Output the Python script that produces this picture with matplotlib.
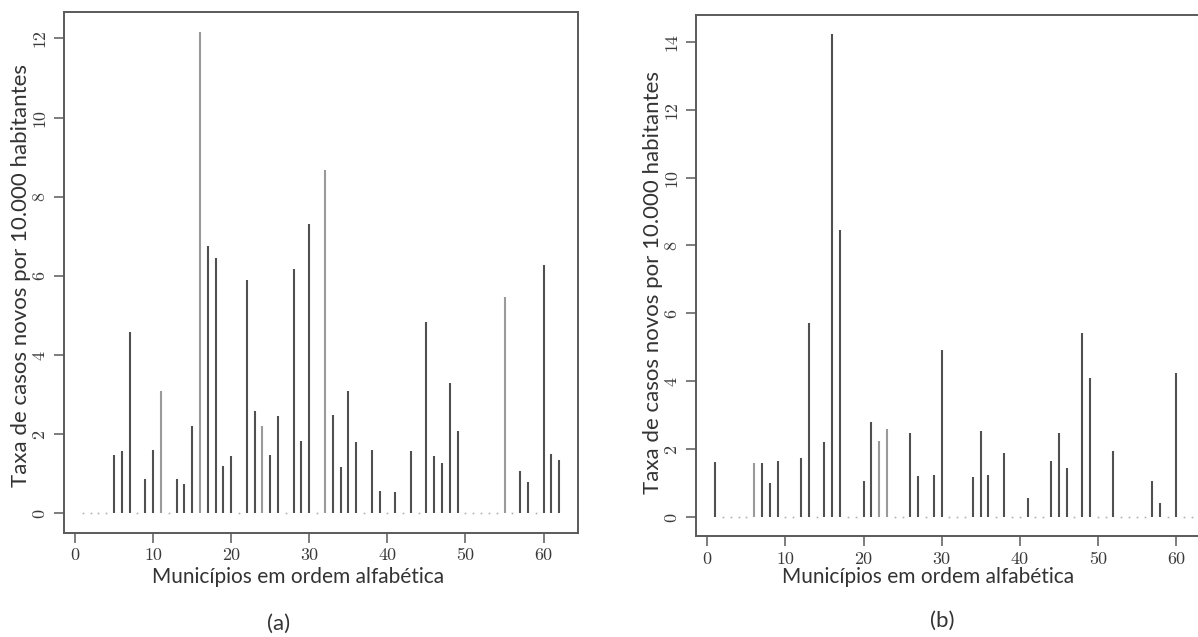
import matplotlib
matplotlib.use("Agg")
import matplotlib.pyplot as plt
import numpy as np

# ---- data ----
municipios = list(range(1, 63))

taxa_a = [0, 0, 0, 0, 1.47, 1.57, 4.58, 0, 0.87, 1.60,
          3.08, 0, 0.87, 0.75, 2.20, 12.16, 6.76, 6.45, 1.20, 1.44,
          0, 5.89, 2.59, 2.21, 1.47, 2.46, 0, 6.18, 1.82, 7.32,
          0, 8.67, 2.49, 1.16, 3.10, 1.80, 0, 1.60, 0.57, 0,
          0.54, 0, 1.58, 0, 4.83, 1.44, 1.26, 3.29, 2.09, 0,
          0, 0, 0, 0, 5.46, 0, 1.07, 0.79, 0, 6.28,
          1.50, 1.35]

taxa_b = [1.62, 0, 0, 0, 0, 1.58, 1.58, 1.00, 1.66, 0,
          0, 1.73, 5.73, 0, 2.22, 14.24, 8.47, 0, 0, 1.06,
          2.80, 2.24, 2.59, 0, 0, 2.47, 1.20, 0, 1.23, 4.93,
          0, 0, 0, 1.18, 2.52, 1.23, 0, 1.89, 0, 0,
          0.55, 0, 0, 1.66, 2.46, 1.43, 0, 5.43, 4.10, 0,
          0, 1.95, 0, 0, 0, 0, 1.06, 0.42, 0, 4.23,
          0, 0]

xticks = [0, 10, 20, 30, 40, 50, 60]
yticks_a = [0, 2, 4, 6, 8, 10, 12]
yticks_b = [0, 2, 4, 6, 8, 10, 12, 14]

xlabel = "Municípios em ordem alfabética"
ylabel = "Taxa de casos novos por 10.000 habitantes"

# style-only: bars rendered lighter in the reference
light_a = [11, 16, 24, 32, 55]
light_b = [6, 22, 23]

# ---- figure ----
W, H = 1198, 637
fig = plt.figure(figsize=(W / 100, H / 100), dpi=100)

DARK = "#505050"
LIGHT = "#9a9a9a"
FRAME = "#5a5a5a"
LABEL_FONT = ["Lato", "DejaVu Sans"]


def draw(ax, x, y, light, yticks, ylim):
    x = np.asarray(x)
    y = np.asarray(y, dtype=float)
    nz = y > 0
    cols = [LIGHT if xi in light else DARK for xi in x[nz]]
    ax.vlines(x[nz], 0, y[nz], colors=cols, linewidth=1.5)
    ax.plot(x[~nz], y[~nz], linestyle="none", marker="s", markersize=1.2,
            color="#b0b0b0", markeredgewidth=0)
    ax.set_xlim(-1.44, 64.44)
    ax.set_ylim(*ylim)
    ax.set_xticks(xticks)
    ax.set_yticks(yticks)
    for s in ax.spines.values():
        s.set_color(FRAME)
        s.set_linewidth(1.4)
    ax.tick_params(axis="both", direction="out", length=7, width=1.1,
                   color=FRAME, labelsize=13, labelcolor="#3a3a3a")
    ax.tick_params(axis="x", pad=4)
    ax.tick_params(axis="y", pad=5)
    for lab in ax.get_xticklabels() + ax.get_yticklabels():
        lab.set_fontfamily("cmr10")
    for lab in ax.get_yticklabels():
        lab.set_rotation(90)
        lab.set_va("center")


def ax_rect(left_px, right_px, top_px, bottom_px):
    return [left_px / W, 1 - bottom_px / H, (right_px - left_px) / W,
            (bottom_px - top_px) / H]


ppu = 7.81
ax1 = fig.add_axes(ax_rect(75 - 1.44 * ppu, 75 + 64.44 * ppu, 12.3, 532.7))
draw(ax1, municipios, taxa_a, light_a, yticks_a, (-0.49, 12.66))

ax2 = fig.add_axes(ax_rect(707.3 - 1.44 * ppu, 707.3 + 64.44 * ppu, 15, 536))
draw(ax2, municipios, taxa_b, light_b, yticks_b, (-0.56, 14.79))

# axis labels and panel letters as figure text
xl_kw = dict(fontsize=15, color="#333333", family=LABEL_FONT)
yl_kw = dict(fontsize=16, color="#333333", family=LABEL_FONT)
fig.text(298 / W, 1 - 577 / H, xlabel, ha="center", va="center", **xl_kw)
fig.text(928 / W, 1 - 577 / H, xlabel, ha="center", va="center", **xl_kw)
fig.text(21 / W, 1 - 276 / H, ylabel, rotation=90, ha="center", va="center", **yl_kw)
fig.text(653 / W, 1 - 283 / H, ylabel, rotation=90, ha="center", va="center", **yl_kw)
fig.text(279 / W, 1 - 624 / H, "(a)", ha="center", va="center", fontsize=16,
         color="#333333", family=LABEL_FONT)
fig.text(942 / W, 1 - 621 / H, "(b)", ha="center", va="center", fontsize=16,
         color="#333333", family=LABEL_FONT)

fig.savefig("out.png", dpi=100, facecolor="white")
